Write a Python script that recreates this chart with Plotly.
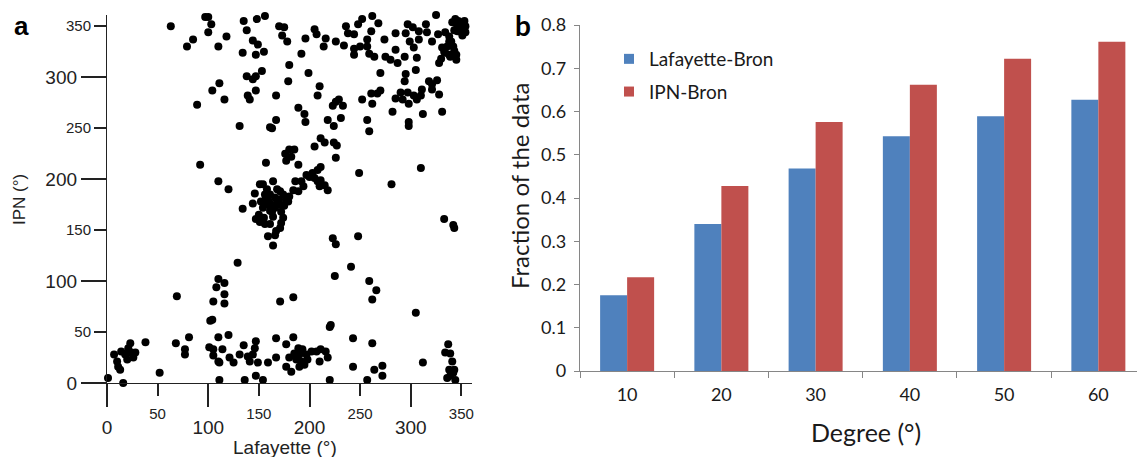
import plotly.graph_objects as go

# ---------------- data: panel a (scatter of directions, degrees) ----------------
lafayette = [
    63, 79, 85, 97, 100, 103, 100, 110, 118, 135, 138, 134, 144, 149, 148, 156, 147, 155,
    170, 175, 173, 178, 192, 196, 205, 207, 214, 216, 226, 234, 236, 238, 244, 248, 244, 244,
    252, 262, 268, 261, 257, 257, 259, 264, 250, 274, 275, 280, 285, 285, 287, 294, 297, 295,
    299, 302, 303, 308, 308, 306, 305, 315, 316, 321, 325, 327, 331, 334, 338, 341, 344, 347,
    349, 354, 354, 343, 346, 334, 339, 343, 330, 328, 345, 340,
    350, 352, 348, 351, 353, 346, 338, 336, 342, 338, 333, 345,
    89, 104, 111, 116, 131, 138, 144, 147, 153, 147, 139, 141, 167, 161, 167, 180, 179, 189,
    195, 196, 199, 208, 210, 218, 223, 226, 229, 233, 231, 224, 252, 257, 259, 261, 262, 267,
    270, 270, 282, 285, 290, 292, 294, 295, 297, 298, 298, 298, 303, 306, 310, 311, 312, 318,
    321, 321, 326, 328, 331,
    92, 110, 120, 134, 129, 157, 163,
    176, 180, 182, 185, 189, 177, 205, 211, 215, 224, 227, 226, 208, 211, 203, 200, 197, 205,
    208, 211, 215, 218, 210, 192, 194, 189, 186, 184, 180, 177, 174, 171, 164, 154, 151, 146,
    144, 156, 157, 161, 166, 167, 162, 157, 154, 161, 171, 175, 179, 164, 147, 151, 156, 161,
    174, 172, 171, 167, 159, 166, 164, 223, 226, 248, 249, 281, 310, 333, 342, 343,
    158, 152, 160, 168, 170, 163, 155, 150, 172, 166,
    225, 241, 259, 266, 262, 305, 110, 116, 108, 116, 116, 105, 102, 104, 69, 171, 184, 221, 220,
    1, 16, 7, 10, 11, 13, 14, 18, 21, 23, 24, 28, 26, 20, 38, 52, 68, 77, 77, 81,
    101, 105, 105, 110, 114, 110, 111, 111, 120, 121, 125, 131, 135, 139, 141, 144, 146, 147,
    149, 136, 147, 154, 159, 167, 167, 177, 177, 182, 184, 180, 185, 187, 189, 190, 192, 190,
    193, 197, 195, 198, 202, 207, 210, 211, 216, 218, 220, 243, 243, 257, 262, 264, 272, 272,
    312, 334, 337, 339, 341, 338, 343, 339, 344, 342, 336,
]
ipn = [
    350, 330, 337, 359, 359, 352, 344, 330, 340, 355, 346, 324, 336, 332, 357, 360, 322, 325,
    350, 349, 341, 335, 323, 338, 347, 342, 330, 338, 335, 331, 350, 343, 342, 352, 328, 322,
    357, 360, 353, 345, 337, 330, 323, 320, 330, 337, 320, 317, 343, 327, 314, 320, 352, 343,
    335, 349, 329, 345, 337, 319, 307, 352, 344, 335, 361, 342, 329, 344, 335, 354, 357, 355,
    350, 350, 344, 346, 345, 324, 320, 326, 318, 314, 317, 335,
    352, 348, 345, 341, 355, 350, 340, 330, 330, 322, 325, 322,
    273, 287, 294, 278, 252, 301, 298, 301, 306, 287, 282, 278, 282, 251, 258, 312, 296, 270,
    264, 256, 304, 282, 291, 258, 272, 276, 278, 272, 260, 252, 278, 258, 247, 284, 274, 284,
    287, 304, 266, 279, 285, 278, 296, 303, 285, 274, 256, 252, 282, 278, 282, 288, 264, 296,
    293, 288, 297, 283, 266,
    214, 198, 190, 171, 118, 216, 250,
    225, 229, 222, 229, 214, 218, 232, 240, 236, 236, 233, 221, 209, 212, 206, 202, 204, 201,
    198, 199, 194, 189, 193, 198, 193, 188, 198, 189, 183, 180, 185, 188, 198, 195, 195, 186,
    176, 185, 182, 185, 182, 175, 175, 175, 172, 169, 175, 174, 178, 163, 161, 158, 156, 156,
    162, 157, 152, 149, 144, 145, 135, 142, 136, 144, 206, 195, 211, 161, 155, 152,
    190, 178, 178, 190, 180, 168, 162, 165, 168, 172,
    105, 114, 100, 91, 82, 69, 102, 98, 94, 87, 78, 80, 61, 62, 85, 80, 84, 57, 55,
    5, 0, 28, 21, 16, 13, 31, 28, 34, 39, 30, 30, 25, 23, 40, 10, 39, 33, 28, 45,
    35, 33, 27, 45, 33, 21, 20, 3, 47, 25, 20, 28, 37, 26, 21, 28, 34, 41,
    20, 3, 7, 3, 20, 44, 25, 38, 16, 11, 45, 25, 29, 23, 34, 28, 21, 16,
    33, 28, 18, 23, 31, 31, 21, 33, 31, 25, 3, 44, 16, 3, 39, 13, 17, 7,
    20, 30, 38, 29, 21, 13, 13, 7, 3, 10, 5,
]
axis_major_ticks = [0, 100, 200, 300]
axis_minor_ticks = [50, 150, 250, 350]

# ---------------- data: panel b (grouped bars) ----------------
degree_bins = ["10", "20", "30", "40", "50", "60"]
frac_lafayette_bron = [0.175, 0.340, 0.468, 0.543, 0.589, 0.627]
frac_ipn_bron = [0.217, 0.428, 0.576, 0.662, 0.722, 0.761]

W, H = 1137, 457


def px(x):
    return x / W


def py(y):
    return 1 - y / H


BLUE = "#4F81BD"
RED = "#C0504D"
AX_GREY = "#868686"
TXT = "#1a1a1a"
ARIAL = "Liberation Sans"
CAL = "Lato"

fig = go.Figure()

fig.add_trace(go.Scatter(
    x=lafayette, y=ipn, mode="markers",
    marker=dict(color="black", size=8, line=dict(width=0)),
    cliponaxis=False, showlegend=False, xaxis="x", yaxis="y", hoverinfo="x+y",
))
# empty traces so that the overlaid minor-label axes get drawn
fig.add_trace(go.Scatter(x=[None], y=[None], xaxis="x3", yaxis="y",
                         showlegend=False, hoverinfo="skip"))
fig.add_trace(go.Scatter(x=[None], y=[None], xaxis="x", yaxis="y3",
                         showlegend=False, hoverinfo="skip"))

fig.add_trace(go.Bar(
    x=degree_bins, y=frac_lafayette_bron, name="Lafayette-Bron",
    marker=dict(color=BLUE, line=dict(width=0)), showlegend=False,
    xaxis="x2", yaxis="y2",
))
fig.add_trace(go.Bar(
    x=degree_bins, y=frac_ipn_bron, name="IPN-Bron",
    marker=dict(color=RED, line=dict(width=0)), showlegend=False,
    xaxis="x2", yaxis="y2",
))

# legend entries (small square swatches like the original)
for nm, col in (("Lafayette-Bron", BLUE), ("IPN-Bron", RED)):
    fig.add_trace(go.Scatter(
        x=[None], y=[None], mode="markers", name=nm, legendgroup=nm,
        marker=dict(symbol="square", size=10, color=col),
        xaxis="x2", yaxis="y2",
    ))

common = dict(showgrid=False, zeroline=False, automargin=False)


def ann(text, x, y, size, family, angle=0, color="#222"):
    return dict(text=text, x=px(x), y=py(y), xref="paper", yref="paper",
                xanchor="center", yanchor="middle", textangle=angle,
                showarrow=False, font=dict(family=family, size=size, color=color))


fig.update_layout(
    width=W, height=H,
    margin=dict(l=0, r=0, t=0, b=0, pad=0, autoexpand=False),
    paper_bgcolor="white", plot_bgcolor="white",
    barmode="group", bargap=0.427, bargroupgap=0,
    font=dict(family=ARIAL, color=TXT),
    showlegend=True,
    legend=dict(
        x=px(609), y=py(40), xanchor="left", yanchor="top",
        font=dict(family=CAL, size=19, color=TXT),
        bgcolor="rgba(0,0,0,0)", tracegroupgap=5,
    ),
    # ---- panel a axes ----
    xaxis=dict(
        domain=[px(107), px(472)], range=[0, 360.5], anchor="y",
        showline=True, linecolor="#222", linewidth=1.3,
        ticks="outside", ticklen=23, tickwidth=1.5, tickcolor="#222",
        ticklabelstandoff=4,
        tickvals=axis_major_ticks, ticktext=[str(v) for v in axis_major_ticks],
        tickfont=dict(size=19, family=ARIAL, color="#222"), **common,
    ),
    xaxis3=dict(
        overlaying="x", anchor="y", range=[0, 360.5], showline=False,
        ticks="outside", ticklen=12, tickwidth=1.5, tickcolor="#222",
        ticklabelstandoff=5,
        tickvals=axis_minor_ticks, ticktext=[str(v) for v in axis_minor_ticks],
        tickfont=dict(size=15, family=ARIAL, color="#222"), **common,
    ),
    yaxis=dict(
        domain=[py(383), py(15)], range=[0, 361], anchor="x",
        showline=True, linecolor="#222", linewidth=1.3,
        ticks="outside", ticklen=25, tickwidth=1.5, tickcolor="#222",
        tickvals=axis_major_ticks, ticktext=[str(v) for v in axis_major_ticks],
        tickfont=dict(size=19, family=ARIAL, color="#222"), **common,
    ),
    yaxis3=dict(
        overlaying="y", anchor="x", side="left", range=[0, 361], showline=False,
        ticks="outside", ticklen=12, tickwidth=1.5, tickcolor="#222",
        tickvals=axis_minor_ticks, ticktext=[str(v) for v in axis_minor_ticks],
        tickfont=dict(size=15, family=ARIAL, color="#222"), **common,
    ),
    # ---- panel b axes ----
    xaxis2=dict(
        domain=[px(580), 1.0], anchor="y2", type="category", range=[-0.5, 5.41],
        showline=True, linecolor=AX_GREY, linewidth=1.3,
        ticks="outside", tickson="boundaries", ticklen=6, tickcolor=AX_GREY,
        tickwidth=1.3, ticklabelstandoff=7,
        tickfont=dict(size=18, family=CAL, color=TXT), **common,
    ),
    yaxis2=dict(
        domain=[py(371), py(25)], range=[0, 0.8], anchor="x2",
        tick0=0, dtick=0.1,
        showline=True, linecolor=AX_GREY, linewidth=1.3,
        ticks="outside", ticklen=5, tickcolor=AX_GREY, tickwidth=1.3,
        ticklabelstandoff=4,
        tickfont=dict(size=18, family=CAL, color=TXT), **common,
    ),
    annotations=[
        ann("<b>a</b>", 21, 26, 26, ARIAL, color="black"),
        ann("<b>b</b>", 523, 25, 28, CAL, color="black"),
        ann("IPN (°)", 19, 200, 17, ARIAL, angle=-90),
        ann("Lafayette (°)", 285, 447, 19, ARIAL),
        ann("Fraction of the data", 519, 186, 24, CAL, angle=-90, color=TXT),
        ann("Degree (°)", 866, 432, 25, CAL, color=TXT),
    ],
)

fig.write_html("out.html")
